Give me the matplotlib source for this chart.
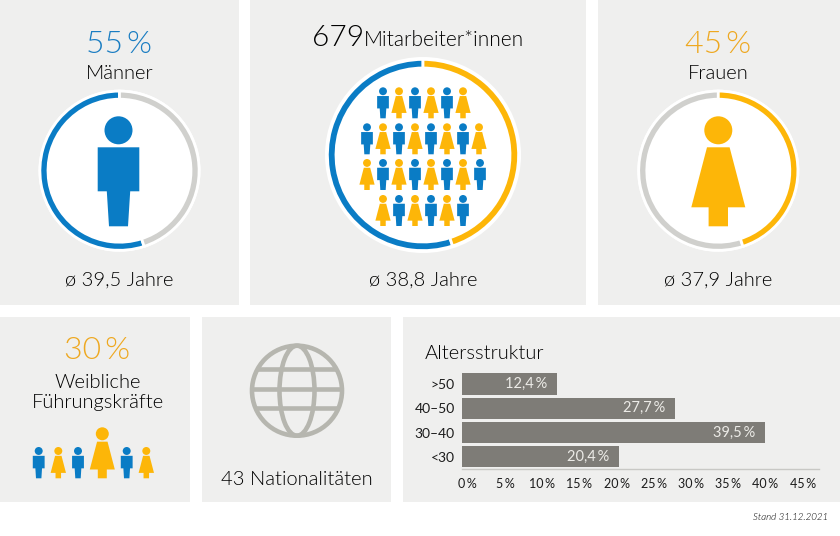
import numpy as np
import matplotlib as mpl
mpl.use('Agg')
import matplotlib.pyplot as plt
from matplotlib.patches import Circle, Ellipse, Polygon, Rectangle

plt.rcParams['font.family'] = ['Lato', 'DejaVu Sans']

# data
share_labels = ['Männer', 'Frauen']
share_values = [55, 45]
rest_values = [45, 55]
age_labels = ['ø 39,5 Jahre', 'ø 38,8 Jahre', 'ø 37,9 Jahre']
employees = '679'
leaders = '30\u2009%'
nationalities = '43 Nationalitäten'

age_groups = ['>50', '40\u201350', '30\u201340', '<30']
age_shares = [12.4, 27.7, 39.5, 20.4]
age_texts = ['12,4\u2009%', '27,7\u2009%', '39,5\u2009%', '20,4\u2009%']
age_ticks = [0, 5, 10, 15, 20, 25, 30, 35, 40, 45]

# colours
BLUE = '#0a7cc5'
YELLOW = '#fdb608'
BLUE_TXT = '#1a7dc2'
YELLOW_TXT = '#eea820'
RING = '#d0d0cd'
PANEL = '#efefee'
DARK = '#000000'
BAR = '#7e7c77'
GLOBE = '#b6b6af'
LIGHT = 300

fig = plt.figure(figsize=(8.4, 5.36), dpi=100, facecolor='white')
ax = fig.add_axes([0, 0, 1, 1])


def person(x, top, height, color, woman=False):
    # drawn at 110 px tall, then scaled
    s = height / 110.0
    ax.add_patch(Circle((x, top + 14 * s), 14 * s, fc=color, ec='none', zorder=4))
    if woman:
        pts = [(-11.3, 31), (11.3, 31), (27, 91), (9.7, 91), (9.7, 110),
               (-9.7, 110), (-9.7, 91), (-27, 91)]
    else:
        pts = [(-20.8, 31), (20.8, 31), (20.8, 75), (11.7, 75), (9.5, 110),
               (-9.5, 110), (-11.7, 75), (-20.8, 75)]
    pts = [(x + a * s, top + b * s) for a, b in pts]
    ax.add_patch(Polygon(pts, closed=True, fc=color, ec='none', zorder=4))


def ring(cx, cy, r_white, r_out, r_in, values, colors):
    ax.add_patch(Circle((cx, cy), r_white, fc='white', ec='none', zorder=1))
    # y axis points down, so the slices run the other way round
    wedges, _ = ax.pie(values, colors=colors, center=(cx, cy), radius=r_out, startangle=-90,
                       counterclock=False, frame=True,
                       wedgeprops=dict(width=r_out - r_in, edgecolor='white', linewidth=2.0))
    for w in wedges:
        w.set_zorder(2)


def label(x, y, s, size, color=DARK, ha='center', weight=LIGHT, **kw):
    ax.text(x, y, s, fontsize=size, color=color, ha=ha, va='baseline', zorder=5,
            weight=weight, **kw)


# panels
for x0, y0, w, h in [(0, 0, 239, 305), (250, 0, 336, 305), (598, 0, 242, 305),
                     (0, 317, 190, 185), (202, 317, 189, 185), (403, 317, 437, 185)]:
    ax.add_patch(Rectangle((x0, y0), w, h, fc=PANEL, ec='none', zorder=0))

# rings
ring(119.5, 170.7, 81, 79.6, 71.5, [share_values[0], rest_values[0]], [BLUE, RING])
ring(423, 155, 98, 95.6, 87, share_values, [BLUE, YELLOW])
ring(718.3, 170.7, 81, 79.6, 71.5, [rest_values[1], share_values[1]], [RING, YELLOW])

person(118.5, 116.3, 110, BLUE)
person(718.3, 116.3, 110, YELLOW, woman=True)

# the crowd in the middle
crowd = [
    (87.3, [383, 399, 415, 431, 447, 463], 'BYBYBY'),
    (123.3, [367, 383, 399, 415, 431, 447, 463, 479], 'BYBYBYBY'),
    (159, [367, 383, 399, 415, 431, 447, 463, 480], 'YBYBYBYB'),
    (195, [383, 399, 415, 431, 447, 463], 'YBYBYB'),
]
for top, xs, kinds in crowd:
    for x, k in zip(xs, kinds):
        person(x, top, 31, BLUE if k == 'B' else YELLOW, woman=k == 'Y')

# leaders row
for x, k in zip([38.7, 58.3, 78, 126.7, 146.3], 'BYBBY'):
    person(x, 447, 31.3, BLUE if k == 'B' else YELLOW, woman=k == 'Y')
person(102.3, 427.3, 51, YELLOW, woman=True)

# globe
gx, gy = 297, 390.7
outline = Circle((gx, gy), 45, fc='none', ec=GLOBE, lw=3.3, zorder=3)
ax.add_patch(outline)
ax.add_patch(Ellipse((gx, gy), 35, 90, fc='none', ec=GLOBE, lw=3.3, zorder=3))
for ly in [368.7, 388.7, 407.7]:
    ln, = ax.plot([gx - 46, gx + 46], [ly, ly], color=GLOBE, lw=3.3, zorder=3,
                  solid_capstyle='butt')
    ln.set_clip_path(Circle((gx, gy), 45, transform=ax.transData))

# texts
label(119, 53.3, f'{share_values[0]}\u2009%', 23, BLUE_TXT)
label(120, 79.3, share_labels[0], 14.5)
label(119.5, 286, age_labels[0], 14.5)
label(718, 53.3, f'{share_values[1]}\u2009%', 23, YELLOW_TXT)
label(718, 79.3, share_labels[1], 14.5)
label(718, 286, age_labels[2], 14.5)
label(312, 46, employees, 21.5, ha='left')
label(364, 46, 'Mitarbeiter*innen', 15, ha='left')
label(423, 286, age_labels[1], 14.5)
label(97, 359, leaders, 23, YELLOW_TXT)
label(97.5, 388, 'Weibliche', 14.5)
label(98, 408, 'Führungskräfte', 14.5)
label(297, 485, nationalities, 14.5)
label(425, 359, 'Altersstruktur', 14.5, ha='left')
label(828, 520, 'Stand 31.12.2021', 7, ha='right', style='italic')

ax.set_xlim(0, 840)
ax.set_ylim(536, 0)
ax.axis('off')

# age bars, own axes
bx = fig.add_axes([461.7 / 840, 1 - 468.7 / 536, (819 - 461.7) / 840, 96.5 / 536])
bx.patch.set_alpha(0)
ypos = np.arange(len(age_groups))
bx.barh(ypos, age_shares, height=0.9, color=BAR)
for y, v, t in zip(ypos, age_shares, age_texts):
    bx.annotate(t, (v, y), xytext=(-7, 0), textcoords='offset points', ha='right', va='center',
                color='#ecebe7', fontsize=10.5)
bx.set_xlim(0, (819 - 461.7) / 7.69)
bx.set_ylim(3.5, -0.5)
bx.set_yticks(ypos, age_groups)
# printed labels sit slightly off the bar scale
bx.set_xticks([0.78 + 0.968 * v for v in age_ticks], [f'{v}\u2009%' for v in age_ticks])
bx.tick_params(axis='x', length=0, pad=7, labelsize=9, labelcolor='#1c1c1c')
bx.tick_params(axis='y', length=0, pad=5, labelsize=10, labelcolor='#1c1c1c')
for name, spine in bx.spines.items():
    spine.set_visible(name == 'bottom')
bx.spines['bottom'].set_color('#c8c8c5')
bx.spines['bottom'].set_linewidth(1)

fig.savefig('out.png', dpi=100)
